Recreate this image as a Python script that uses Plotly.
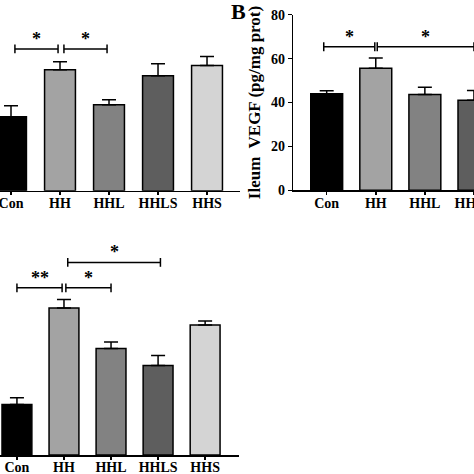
import plotly.graph_objects as go

groups = ["Con", "HH", "HHL", "HHLS", "HHS"]
colors = ["#000000", "#a3a3a3", "#828282", "#5e5e5e", "#d4d4d4"]

# Panel A (top-left, y-axis cropped)
a_vals = [33.7, 55.1, 39.2, 52.4, 57.0]
a_err = [5.0, 3.7, 2.3, 5.5, 4.1]
a_brackets = [(0.08, 0.96, 64.6, "*"), (1.08, 1.96, 64.6, "*")]

# Panel B (Ileum VEGF, right side cropped)
b_vals = [44.0, 55.6, 43.7, 41.0, 45.0]
b_err = [1.4, 4.7, 3.2, 4.5, 3.0]
b_brackets = [(-0.06, 0.98, 65.4, "*"), (1.03, 3.0, 65.4, "*")]
b_ticks = [0, 20, 40, 60, 80]

# Panel C (bottom-left)
c_vals = [25.3, 73.5, 53.2, 44.8, 65.0]
c_err = [3.3, 4.3, 3.3, 5.0, 2.0]
c_brackets = [(0.0, 0.96, 83.6, "**"), (1.04, 2.0, 83.6, "*"), (1.08, 3.05, 96.3, "*")]

W = H = 474
FONT = "Liberation Serif, Times New Roman, serif"

fig = go.Figure()

def add_bars(vals, errs, xa, ya, width):
    fig.add_trace(go.Bar(
        x=list(range(len(groups))), y=vals,
        marker=dict(color=colors, line=dict(color="black", width=1.5)),
        width=width,
        error_y=dict(type="data", array=errs, arrayminus=[0] * len(errs),
                     symmetric=False, color="black", thickness=1.5, width=7),
        xaxis=xa, yaxis=ya, showlegend=False, hoverinfo="skip",
    ))

add_bars(a_vals, a_err, "x", "y", 0.63)
add_bars(b_vals, b_err, "x2", "y2", 0.65)
add_bars(c_vals, c_err, "x3", "y3", 0.635)

def brackets(blist, xr, yr, half):
    for x0, x1, yv, lab in blist:
        fig.add_shape(type="line", x0=x0, x1=x1, y0=yv, y1=yv, xref=xr, yref=yr,
                      line=dict(color="black", width=1.5))
        for xx in (x0, x1):
            fig.add_shape(type="line", x0=xx, x1=xx, y0=yv - half, y1=yv + half,
                          xref=xr, yref=yr, line=dict(color="black", width=1.5))
        fig.add_annotation(x=(x0 + x1) / 2, y=yv, xref=xr, yref=yr, text=lab,
                           showarrow=False, yanchor="bottom", yshift=-2,
                           font=dict(family=FONT, size=18, color="black", weight="bold"))

brackets(a_brackets, "x", "y", 2.0)
brackets(b_brackets, "x2", "y2", 2.0)
brackets(c_brackets, "x3", "y3", 2.2)

tickfont = dict(family=FONT, size=14, color="black", weight="bold")
xcommon = dict(tickmode="array", tickvals=list(range(len(groups))), ticktext=groups,
               ticks="outside", ticklen=3, tickwidth=1.5, tickcolor="black",
               showline=True, linecolor="black", linewidth=1.5, showgrid=False,
               zeroline=False, tickfont=tickfont, fixedrange=True, automargin=False,
               ticklabeloverflow="allow", ticklabelstandoff=-4)

fig.update_layout(
    width=W, height=H, margin=dict(l=0, r=0, t=0, b=0, pad=0), autosize=False,
    paper_bgcolor="white", plot_bgcolor="white",
    xaxis=dict(domain=[0, 240 / W], range=[-0.2245, 4.673], anchor="y", **xcommon),
    yaxis=dict(domain=[1 - 190.7 / H, 1], range=[0, 86.9], anchor="x",
               visible=False, fixedrange=True, automargin=False),
    xaxis2=dict(domain=[293.3 / W, 1], range=[-0.68, 3.001], anchor="y2", **xcommon),
    yaxis2=dict(domain=[1 - 190.3 / H, 1 - 14.7 / H], range=[0, 80], anchor="x2",
                tickvals=b_ticks, ticks="outside", ticklen=4, tickwidth=1.5,
                tickcolor="black", showline=True, linecolor="black", linewidth=1.5,
                showgrid=False, zeroline=False, tickfont=tickfont, fixedrange=True,
                automargin=False,
                title=dict(text="Ileum  VEGF (pg/mg prot)", standoff=6,
                           font=dict(family=FONT, size=17, color="black", weight="bold"))),
    xaxis3=dict(domain=[0, 239 / W], range=[-0.36, 4.72], anchor="y3", **xcommon),
    yaxis3=dict(domain=[1 - 455 / H, 1 - 240 / H], range=[0, 107.5], anchor="x3",
                visible=False, fixedrange=True, automargin=False),
    bargap=0,
)

fig.add_annotation(x=239 / W, y=1 - 11 / H, xref="paper", yref="paper", text="B",
                   showarrow=False, xanchor="center", yanchor="middle",
                   font=dict(family=FONT, size=22, color="black", weight="bold"))

fig.write_html("out.html", config={"displayModeBar": False, "staticPlot": True},
               post_script="document.body.style.margin='0px';document.body.style.overflow='hidden';")
